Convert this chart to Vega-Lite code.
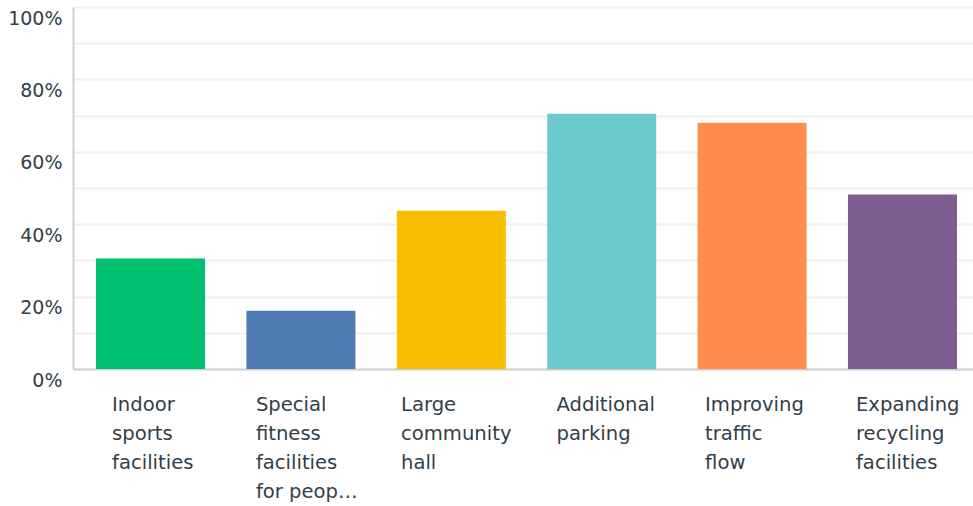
{
  "$schema": "https://vega.github.io/schema/vega-lite/v6.json",
  "autosize": "none",
  "width": 900,
  "height": 362,
  "padding": {"left": 73, "top": 7, "right": 0, "bottom": 137},
  "background": "white",
  "data": {
    "values": [
      {"option": "Indoor|sports|facilities", "pct": 30.5, "color": "#00bf6f"},
      {"option": "Special|fitness|facilities|for peop…", "pct": 16.1, "color": "#507cb6"},
      {"option": "Large|community|hall", "pct": 43.7, "color": "#f9be00"},
      {"option": "Additional|parking", "pct": 70.5, "color": "#6bc8cd"},
      {"option": "Improving|traffic|flow", "pct": 68.0, "color": "#ff8b4f"},
      {"option": "Expanding|recycling|facilities", "pct": 48.2, "color": "#7d5e90"}
    ]
  },
  "config": {
    "view": {"stroke": null},
    "font": "DejaVu Sans"
  },
  "mark": {"type": "bar"},
  "encoding": {
    "x": {
      "field": "option",
      "type": "nominal",
      "sort": null,
      "scale": {"range": [0, 907], "paddingInner": 0.275, "paddingOuter": 0.153},
      "axis": {
        "title": null,
        "labelAngle": 0,
        "labelAlign": "left",
        "labelBaseline": "top",
        "labelOffset": {
          "condition": [
            {"test": "datum.value == 'Indoor|sports|facilities'", "value": -38.5},
            {"test": "datum.value == 'Special|fitness|facilities|for peop…'", "value": -45},
            {"test": "datum.value == 'Large|community|hall'", "value": -50.3},
            {"test": "datum.value == 'Additional|parking'", "value": -45.2},
            {"test": "datum.value == 'Improving|traffic|flow'", "value": -47}
          ],
          "value": -46.5
        },
        "labelPadding": 26,
        "labelLineHeight": 29,
        "labelFontSize": 19.6,
        "labelColor": "#333e48",
        "labelLimit": 0,
        "labelOverlap": false,
        "labelExpr": "split(datum.label, '|')",
        "ticks": false,
        "domainColor": "#d0d0d0",
        "domainWidth": 2,
        "grid": false
      }
    },
    "y": {
      "field": "pct",
      "type": "quantitative",
      "scale": {"domain": [0, 100], "nice": false},
      "axis": {
        "title": null,
        "values": [0, 10, 20, 30, 40, 50, 60, 70, 80, 90, 100],
        "labelExpr": "datum.value % 20 == 0 ? datum.value + '%' : ''",
        "labelBaseline": "top",
        "labelOffset": 2,
        "labelPadding": 11,
        "labelFontSize": 19,
        "labelColor": "#333e48",
        "labelOverlap": false,
        "labelBound": false,
        "labelFlush": false,
        "ticks": false,
        "domainColor": "#d0d0d0",
        "domainWidth": 2,
        "gridColor": "#efefef",
        "gridWidth": 2
      }
    },
    "color": {"field": "color", "type": "nominal", "scale": null, "legend": null}
  }
}
